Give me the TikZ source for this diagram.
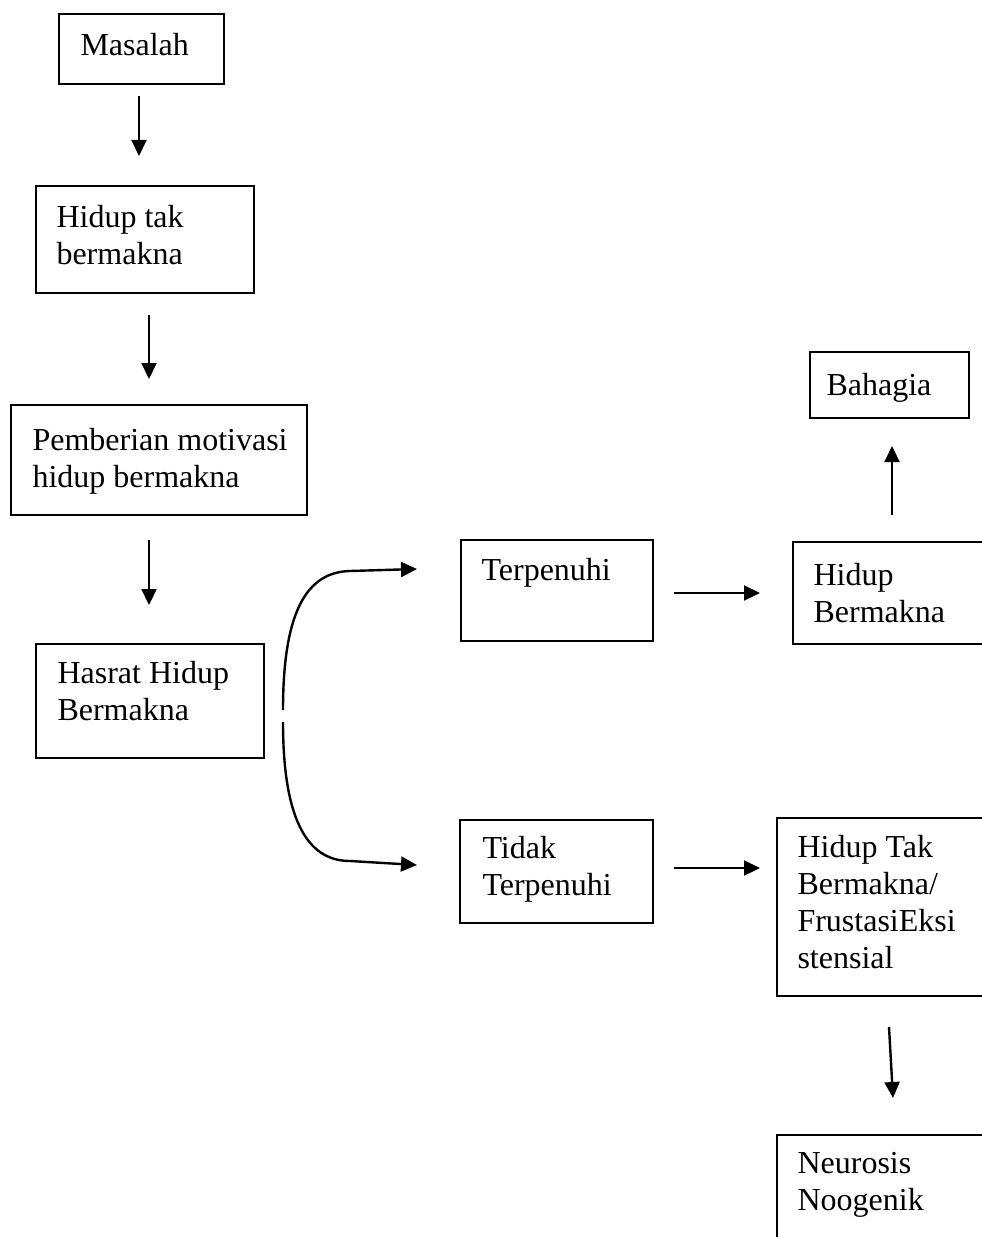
\documentclass[tikz,border=0pt]{standalone}
\usepackage{fontspec}
\setmainfont{Liberation Serif}
\usetikzlibrary{arrows.meta}
\begin{document}
\begin{tikzpicture}[x=0.375pt,y=-0.375pt,
  box/.style={draw,line width=0.75pt,anchor=north west,inner sep=0pt},
  lbl/.style={anchor=north west,inner sep=0pt,align=left,font=\fontsize{12}{13.9}\selectfont},
  arr/.style={line width=0.9pt,-{Triangle[length=6pt,width=5.6pt]}}]
\useasboundingbox (0,0) rectangle (982,1237);
\clip (0,0) rectangle (982,1237);
% boxes
\node[box,minimum width={165*0.375pt},minimum height={70*0.375pt}] (m) at (58,13) {};
\node[box,minimum width={218*0.375pt},minimum height={107*0.375pt}] (h1) at (35,185) {};
\node[box,minimum width={296*0.375pt},minimum height={110*0.375pt}] (p) at (10,404) {};
\node[box,minimum width={228*0.375pt},minimum height={114*0.375pt}] (hs) at (35,643) {};
\node[box,minimum width={192*0.375pt},minimum height={101*0.375pt}] (t) at (460,539) {};
\node[box,minimum width={220*0.375pt},minimum height={102*0.375pt}] (hb) at (792,541) {};
\node[box,minimum width={159*0.375pt},minimum height={66*0.375pt}] (b) at (809,351) {};
\node[box,minimum width={193*0.375pt},minimum height={103*0.375pt}] (tt) at (459,819) {};
\node[box,minimum width={220*0.375pt},minimum height={178*0.375pt}] (htb) at (776,817) {};
\node[box,minimum width={220*0.375pt},minimum height={130*0.375pt}] (n) at (776,1134) {};
% labels
\node[lbl] (lm) at (80,33) {Masalah};
\node[lbl] (lh1) at (56,205) {Hidup tak\\bermakna};
\node[lbl] (lp) at (32,428) {Pemberian motivasi\\hidup bermakna};
\node[lbl] (lhs) at (57,661) {Hasrat Hidup\\Bermakna};
\node[lbl] (lt) at (481,558) {Terpenuhi};
\node[lbl] (lhb) at (813,563) {Hidup\\Bermakna};
\node[lbl] (lb) at (826,373) {Bahagia};
\node[lbl] (ltt) at (482,836) {Tidak\\Terpenuhi};
\node[lbl] (lhtb) at (797,835) {Hidup Tak\\Bermakna/\\FrustasiEksi\\stensial};
\node[lbl] (ln) at (797,1152) {Neurosis\\Noogenik};
% connector ends
\coordinate (a1s) at (139,96);  \coordinate (a1e) at (139,156);
\coordinate (a2s) at (149,315); \coordinate (a2e) at (149,379);
\coordinate (a3s) at (149,540); \coordinate (a3e) at (149,605);
\coordinate (c1s) at (283,710); \coordinate (c1m) at (350,571); \coordinate (c1e) at (417,569);
\coordinate (c2s) at (283,722); \coordinate (c2m) at (350,861); \coordinate (c2e) at (417,865);
\coordinate (r1s) at (674,593); \coordinate (r1e) at (760,593);
\coordinate (r2s) at (674,868); \coordinate (r2e) at (760,868);
\coordinate (u1s) at (892,515); \coordinate (u1e) at (892,446);
\coordinate (d4s) at (889,1027); \coordinate (d4e) at (893,1098);
% connectors
\draw[arr] (a1s) -- (a1e);
\draw[arr] (a2s) -- (a2e);
\draw[arr] (a3s) -- (a3e);
\draw[arr] (c1s) .. controls (283,615) and (305,572) .. (c1m) -- (c1e);
\draw[arr] (c2s) .. controls (283,815) and (305,861) .. (c2m) -- (c2e);
\draw[arr] (r1s) -- (r1e);
\draw[arr] (r2s) -- (r2e);
\draw[arr] (u1s) -- (u1e);
\draw[arr] (d4s) -- (d4e);
\end{tikzpicture}
\end{document}
